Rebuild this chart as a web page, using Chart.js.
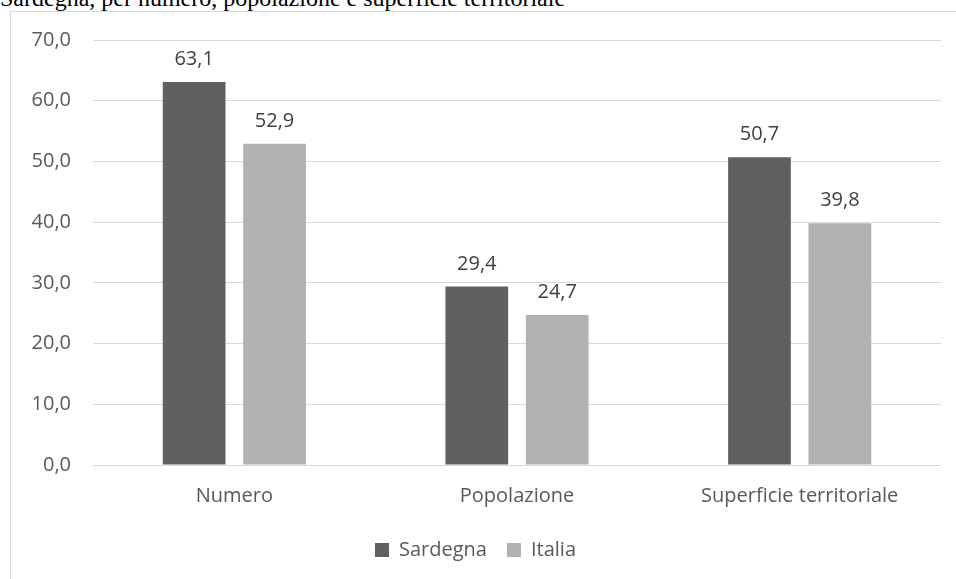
<!DOCTYPE html>
<html>
<head>
<meta charset="utf-8">
<script src="https://cdn.jsdelivr.net/npm/chart.js@4"></script>
<style>
  html, body { margin: 0; padding: 0; background: #fff; overflow: hidden; }
  body { width: 956px; height: 579px; position: relative; }
  #title {
    position: absolute; left: 0; top: -14px;
    font-family: "Liberation Serif", serif; font-size: 24px; line-height: 24px;
    color: #000; white-space: nowrap;
  }
  #frame {
    position: absolute; left: 10px; top: 11px; width: 1000px; height: 700px;
    border: 1px solid #d9d9d9; box-sizing: border-box;
  }
  #wrap { position: absolute; left: 0; top: 0; width: 956px; height: 579px; }
</style>
</head>
<body>
<div id="title">Sardegna, per numero, popolazione e superficie territoriale</div>
<div id="frame"></div>
<div id="wrap"><canvas id="myBarChart"></canvas></div>
<script>
// chart values
const categories = ['Numero', 'Popolazione', 'Superficie territoriale'];
const sardegna = [63.1, 29.4, 50.7];
const italia = [52.9, 24.7, 39.8];

const fmt = v => v.toFixed(1).replace('.', ',');

// draws the value above each bar
const barLabels = {
  id: 'barLabels',
  afterDatasetsDraw(chart) {
    const ctx = chart.ctx;
    ctx.save();
    ctx.font = '20px "Open Sans"';
    ctx.fillStyle = '#404040';
    ctx.textAlign = 'center';
    ctx.textBaseline = 'alphabetic';
    chart.data.datasets.forEach((ds, i) => {
      chart.getDatasetMeta(i).data.forEach((bar, j) => {
        ctx.fillText(fmt(ds.data[j]), bar.x, bar.y - 17);
      });
    });
    ctx.restore();
  }
};

const dataBar = {
  labels: categories,
  datasets: [{
    label: 'Sardegna',
    backgroundColor: '#606060',
    data: sardegna,
  }, {
    label: 'Italia',
    backgroundColor: '#b2b2b2',
    data: italia,
  }]
};

const configBar = {
  type: 'bar',
  data: dataBar,
  plugins: [barLabels],
  options: {
    responsive: true,
    maintainAspectRatio: false,
    animation: false,
    categoryPercentage: 0.569,
    barPercentage: 0.78,
    layout: { padding: { left: 10, right: 15, top: 40, bottom: 9 } },
    scales: {
      x: {
        grid: { display: false, drawTicks: false },
        border: { display: false },
        ticks: { color: '#595959', font: { family: 'Open Sans', size: 20 }, padding: 19 },
        afterFit(scale) { scale.height = 55; }
      },
      y: {
        min: 0,
        max: 70,
        grid: { color: '#d9d9d9', drawTicks: false },
        border: { display: false },
        ticks: {
          stepSize: 10,
          color: '#595959',
          font: { family: 'Open Sans', size: 20 },
          padding: 22,
          callback: v => fmt(v)
        },
        afterFit(scale) { scale.width = 83; }
      }
    },
    plugins: {
      tooltip: { enabled: false },
      legend: {
        position: 'bottom',
        labels: {
          boxWidth: 14,
          boxHeight: 14,
          padding: 20,
          color: '#595959',
          font: { family: 'Open Sans', size: 20 }
        }
      }
    }
  }
};

const myBarChart = new Chart(
  document.getElementById('myBarChart'),
  configBar
);
</script>
</body>
</html>
